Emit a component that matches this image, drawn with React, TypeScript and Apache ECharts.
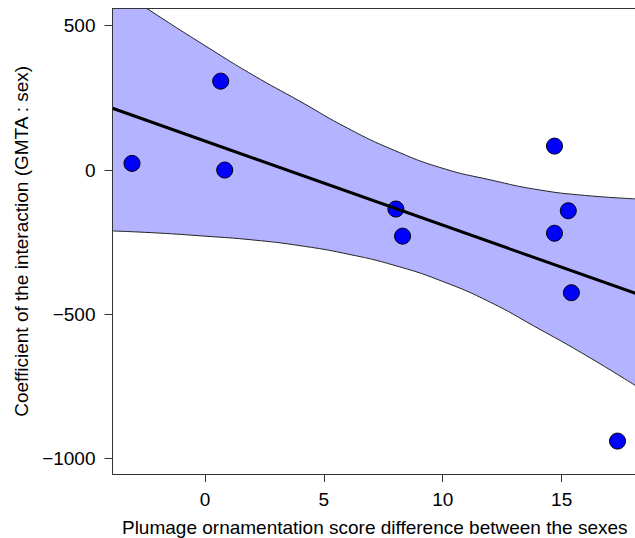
import React, { useEffect, useRef } from "react";
import * as echarts from "echarts";

// Observed data points (plumage score difference, interaction coefficient)
const pointX = [-3.07, 0.66, 0.83, 8.03, 8.31, 14.7, 15.28, 14.7, 15.41, 17.35];
const pointY = [23, 308, 0, -135, -229, 83, -141, -219, -425, -939];

// Fitted regression line endpoints (read at the plot edges)
const fitX = [-3.89, 18.17];
const fitY = [214, -429];

// Confidence band edges
const bandX = [-3.89, -2, 0, 2, 4, 6, 8, 10, 12, 14, 16, 18.17];
const bandUpper = [639, 536, 431, 330, 238, 145, 67, 6, -34, -68, -88, -100];
const bandLower = [-211, -218, -229, -242, -262, -291, -331, -386, -458, -548, -641, -750];

const xTicks = [0, 5, 10, 15];
const yTicks = [500, 0, -500, -1000];

const X_MIN = -3.89;
const X_MAX = 18.17;
const Y_MIN = -1053;
const Y_MAX = 559;

const FONT = "'Liberation Sans', Arial, Helvetica, sans-serif";

export default function App() {
  const ref = useRef<HTMLDivElement>(null);

  useEffect(() => {
    if (!ref.current) return;
    const chart = echarts.init(ref.current, undefined, { renderer: "svg" });
    const minus = (v: number) => String(v).replace("-", "\u2212");
    const axisCommon = {
      type: "value" as const,
      splitLine: { show: false },
      axisLine: { show: true, onZero: false, lineStyle: { color: "#333", width: 1 } },
      axisTick: { show: true, inside: false, length: 8, lineStyle: { color: "#333", width: 1 } },
      z: 10,
    };
    chart.setOption({
      animation: false,
      backgroundColor: "#fff",
      grid: {
        left: 112.5,
        right: -2,
        top: 8.7,
        bottom: 64,
        outerBoundsMode: "none",
        containLabel: false,
      },
      xAxis: [
        {
          ...axisCommon,
          position: "bottom",
          min: X_MIN,
          max: X_MAX,
          axisTick: { ...axisCommon.axisTick, customValues: xTicks },
          axisLabel: {
            customValues: xTicks,
            margin: 16,
            color: "#000",
            fontSize: 19,
            fontFamily: FONT,
          },
          name: "Plumage ornamentation score difference between the sexes",
          nameLocation: "middle",
          nameGap: 44,
          nameTextStyle: { color: "#000", fontSize: 19, fontFamily: FONT },
        },
        {
          ...axisCommon,
          position: "top",
          min: X_MIN,
          max: X_MAX,
          axisTick: { show: false },
          axisLabel: { show: false },
        },
      ],
      yAxis: [
        {
          ...axisCommon,
          position: "left",
          min: Y_MIN,
          max: Y_MAX,
          axisTick: { ...axisCommon.axisTick, customValues: yTicks },
          axisLabel: {
            customValues: yTicks,
            margin: 17,
            color: "#000",
            fontSize: 19,
            fontFamily: FONT,
            formatter: (v: number) => minus(v),
          },
          name: "Coefficient of the interaction (GMTA : sex)",
          nameLocation: "middle",
          nameGap: 82,
          nameTextStyle: { color: "#000", fontSize: 19, fontFamily: FONT },
        },
        {
          ...axisCommon,
          position: "right",
          min: Y_MIN,
          max: Y_MAX,
          axisTick: { show: false },
          axisLabel: { show: false },
        },
      ],
      series: [
        {
          // upper edge of the band, filled down to the bottom of the plot
          type: "line",
          data: bandX.map((x, i) => [x, bandUpper[i]]),
          smooth: 0.5,
          symbol: "none",
          lineStyle: { color: "#222", width: 1 },
          areaStyle: { color: "#B3B3FF", opacity: 1, origin: "start" },
          silent: true,
          z: 2,
        },
        {
          // lower edge of the band, white below it
          type: "line",
          data: bandX.map((x, i) => [x, bandLower[i]]),
          smooth: 0.5,
          symbol: "none",
          lineStyle: { color: "#222", width: 1 },
          areaStyle: { color: "#FFFFFF", opacity: 1, origin: "start" },
          silent: true,
          z: 3,
        },
        {
          type: "scatter",
          data: pointX.map((x, i) => [x, pointY[i]]),
          symbol: "circle",
          symbolSize: 16,
          itemStyle: { color: "#0000FF", borderColor: "#000", borderWidth: 1, opacity: 1 },
          z: 4,
        },
        {
          type: "line",
          data: fitX.map((x, i) => [x, fitY[i]]),
          symbol: "none",
          lineStyle: { color: "#000", width: 3 },
          silent: true,
          z: 5,
        },
      ],
    });
    return () => chart.dispose();
  }, []);

  return (
    <div
      ref={ref}
      style={{ position: "fixed", left: 0, top: 0, width: 635, height: 538, background: "#fff" }}
    />
  );
}
